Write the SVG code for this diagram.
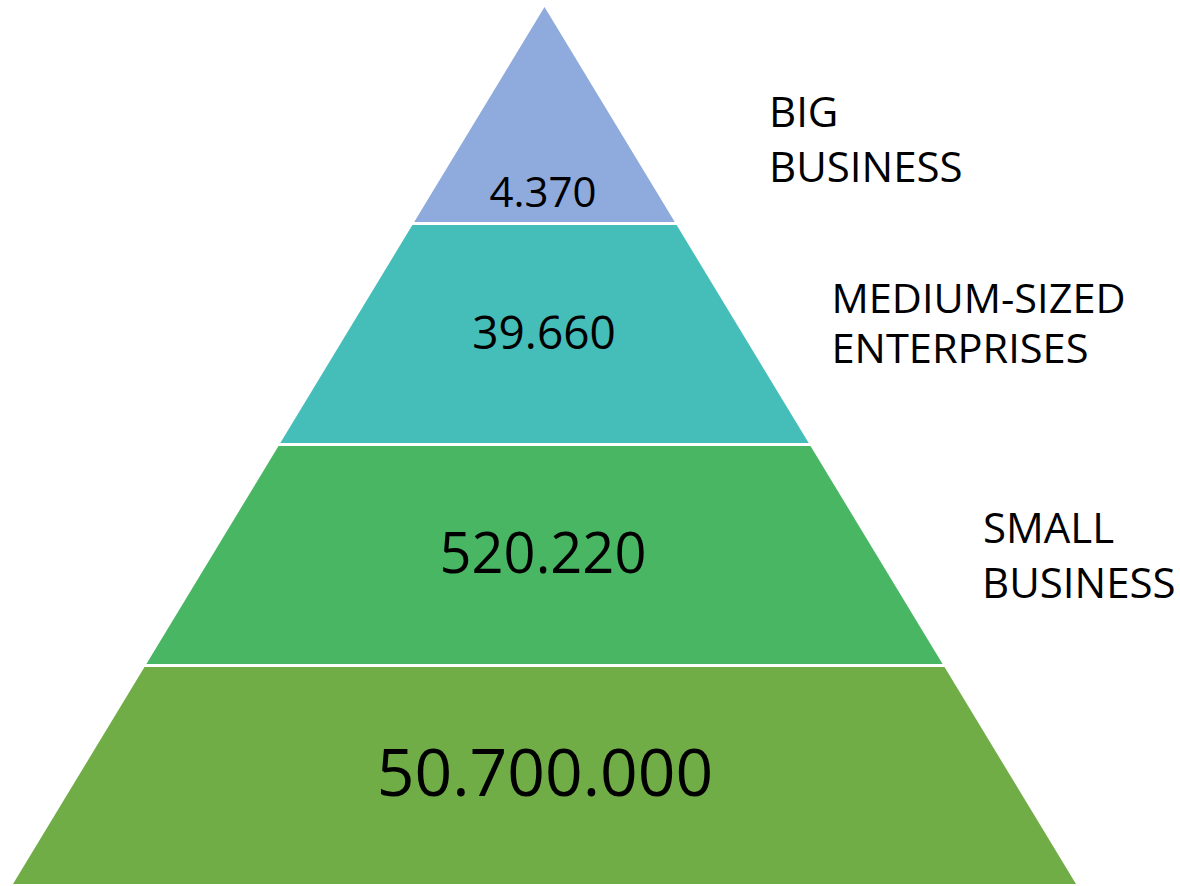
<svg xmlns="http://www.w3.org/2000/svg" width="1180" height="886" viewBox="0 0 1180 886">
<style>
  .num { font-family: "Open Sans", "Noto Sans", "Liberation Sans", sans-serif; fill: #000; text-anchor: middle; }
  .lbl { font-family: "Open Sans", "Noto Sans", "Liberation Sans", sans-serif; fill: #000; }
</style>
<rect x="0" y="0" width="1180" height="886" fill="#ffffff"/>
<g id="big">
  <polygon points="544.5,7 674.8,222 414.2,222" fill="#8FAADC"/>
  <text class="num" x="543" y="207" font-size="42">4.370</text>
</g>
<g id="medium">
  <polygon points="412.4,225 676.6,225 808.7,443 280.3,443" fill="#45BDB8"/>
  <text class="num" x="544" y="349" font-size="46">39.660</text>
</g>
<g id="small">
  <polygon points="278.5,446 810.5,446 942.6,664 146.4,664" fill="#48B663"/>
  <text class="num" x="543" y="573" font-size="56">520.220</text>
</g>
<g id="micro">
  <polygon points="144.5,667 944.5,667 1076,884 13,884" fill="#70AD47"/>
  <text class="num" x="545" y="796" font-size="66">50.700.000</text>
</g>
<g id="labels">
  <text class="lbl" font-size="42"><tspan x="769" y="127">BIG</tspan><tspan x="769" y="182">BUSINESS</tspan></text>
  <text class="lbl" font-size="40"><tspan x="831.5" y="313" textLength="294" lengthAdjust="spacingAndGlyphs">MEDIUM-SIZED</tspan></text>
  <text class="lbl" font-size="40"><tspan x="831.5" y="363" textLength="257" lengthAdjust="spacingAndGlyphs">ENTERPRISES</tspan></text>
  <text class="lbl" font-size="42"><tspan x="983" y="543">SMALL</tspan><tspan x="982" y="598">BUSINESS</tspan></text>
</g>
<g id="connectors"></g>
</svg>
